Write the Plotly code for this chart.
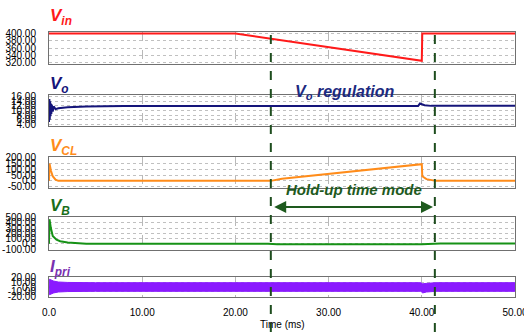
import plotly.graph_objects as go

# ---------------- data ----------------
x_ticks = [0, 10, 20, 30, 40, 50]
x_ticktext = ["0.0", "10.00", "20.00", "30.00", "40.00", "50.00"]

vin_t = [0, 20, 40, 40.05, 50]
vin_v = [400, 400, 325, 400, 400]
vin_ticks = [400, 380, 360, 340, 320]

vo_t = [0, 0.04, 0.08, 0.12, 0.16, 0.2, 0.25, 0.3, 0.4, 0.5, 0.7, 1.0, 2.0, 4.0, 8.0, 24.0, 24.5, 39.6, 39.8, 40.3, 41.0, 50]
vo_v = [5, 15, 6, 14, 7.5, 13, 8.5, 12.5, 9.5, 11.8, 10.6, 11.0, 11.4, 11.7, 11.9, 11.9, 11.8, 11.9, 13.0, 12.3, 12.0, 12.0]
vo_ticks = [16, 14, 12, 10, 8, 6, 4]

vcl_t = [0, 0.05, 0.2, 0.4, 0.7, 1.0, 23.8, 25.0, 40.0, 40.05, 40.5, 41.0, 41.5, 50]
vcl_v = [0, 150, 90, 40, 10, 0, 0, 18, 145, 40, 15, 5, 0, 0]
vcl_ticks = [200, 150, 100, 50, 0, -50]

vb_t = [0, 0.05, 0.2, 0.4, 0.8, 1.2, 2.0, 3.0, 4.0, 23.5, 24.5, 40.0, 41.0, 42.0, 50]
vb_v = [0, 470, 300, 150, 80, 50, 25, 10, 3, 3, -8, -8, 0, 4, 4]
vb_ticks = [500, 400, 300, 200, 100, 0, -100]

ipri_t = [0, 0.05, 0.5, 1.0, 2.0, 5.0, 39.9, 40.1, 40.5, 41.0, 41.5, 50]
ipri_hi = [0, 17, 13, 11, 10, 9.5, 9.5, 7, 8, 9.5, 9.5, 9.5]
ipri_lo = [0, -17, -13, -11, -10, -9.5, -9.5, -13, -11, -9.5, -9.5, -9.5]
ipri_ticks = [20, 10, 0, -10, -20]

holdup_start = 23.8
holdup_end = 41.4

# ---------------- layout helpers ----------------
W, H = 524, 332
X0, X1 = 49, 515


def px(p):
    return p / W


def py(p):
    return 1 - p / H


panels = [
    # (top px, bottom px, range)
    (32, 64, [316, 404]),
    (95, 126, [3.3, 16.7]),
    (157, 188, [-62, 207]),
    (217, 250, [-118, 512]),
    (277, 297, [-22, 22]),
]

fig = go.Figure()

fig.add_trace(go.Scatter(x=vin_t, y=vin_v, mode="lines", line=dict(color="#ff1a1a", width=2), xaxis="x", yaxis="y"))
fig.add_trace(go.Scatter(x=vo_t, y=vo_v, mode="lines", line=dict(color="#15157a", width=2), xaxis="x2", yaxis="y2"))
fig.add_trace(go.Scatter(x=vcl_t, y=vcl_v, mode="lines", line=dict(color="#ff8c1a", width=2), xaxis="x3", yaxis="y3"))
fig.add_trace(go.Scatter(x=vb_t, y=vb_v, mode="lines", line=dict(color="#169216", width=2), xaxis="x4", yaxis="y4"))
fig.add_trace(go.Scatter(x=ipri_t, y=ipri_hi, mode="lines", line=dict(color="#8a1aff", width=1), xaxis="x5", yaxis="y5"))
fig.add_trace(go.Scatter(x=ipri_t, y=ipri_lo, mode="lines", line=dict(color="#8a1aff", width=1),
                         fill="tonexty", fillcolor="#8a1aff", xaxis="x5", yaxis="y5"))


def fmt(v):
    return "0.0" if v == 0 else f"{v:.2f}"


tick_sets = [vin_ticks, vo_ticks, vcl_ticks, vb_ticks, ipri_ticks]
layout = {}
for i, ((top, bot, rng), ticks) in enumerate(zip(panels, tick_sets), start=1):
    sx = "" if i == 1 else str(i)
    xa = dict(
        domain=[px(X0), px(X1)], range=[0, 50], anchor="y" + sx, automargin=False,
        tickvals=x_ticks, ticktext=x_ticktext, showticklabels=(i == 5),
        ticks="", showgrid=True, gridcolor="#b8b8b8", griddash="dash", gridwidth=1,
        showline=True, mirror=True, linecolor="#707070", linewidth=1, zeroline=False,
        tickfont=dict(size=10, color="black", family="Liberation Sans, Arial"),
        ticklabelstandoff=6, ticklabeloverflow="allow",
    )
    if i != 5:
        xa["matches"] = "x5"
    layout["xaxis" + sx] = xa
    layout["yaxis" + sx] = dict(
        domain=[py(bot), py(top)], range=rng, anchor="x" + sx, automargin=False,
        tickvals=ticks, ticktext=[fmt(v) for v in ticks],
        ticks="", showgrid=True, gridcolor="#c0c0c0", griddash="dot", gridwidth=1,
        showline=True, mirror=True, linecolor="#707070", linewidth=1, zeroline=False,
        tickfont=dict(size=10, color="black", family="Liberation Sans, Arial"),
        ticklabelstandoff=10, ticklabeloverflow="allow",
    )

annotations = []
titles = [
    ("V<sub>in</sub>", "#ff1a1a", 17),
    ("V<sub>o</sub>", "#15157a", 85),
    ("V<sub>CL</sub>", "#ff8c1a", 147),
    ("V<sub>B</sub>", "#1a6e1a", 207),
    ("I<sub>pri</sub>", "#7a30b0", 268),
]
for txt, col, yc in titles:
    annotations.append(dict(
        text="<b><i>" + txt + "</i></b>", x=px(48), y=py(yc), xref="paper", yref="paper",
        xanchor="left", yanchor="middle", showarrow=False,
        font=dict(size=17, color=col, family="Liberation Sans, Arial"),
    ))

annotations.append(dict(
    text="<b><i>V<sub>o</sub> regulation</i></b>", x=px(345), y=py(93), xref="paper", yref="paper",
    xanchor="center", yanchor="middle", showarrow=False,
    font=dict(size=16, color="#1c2a80", family="Liberation Sans, Arial"),
))
annotations.append(dict(
    text="<b><i>Hold-up time mode</i></b>", x=px(354), y=py(189), xref="paper", yref="paper",
    xanchor="center", yanchor="middle", showarrow=False,
    font=dict(size=15, color="#1e5a1e", family="Liberation Sans, Arial"),
))
annotations.append(dict(
    text="", x=holdup_end - 0.2, y=py(207), xref="x5", yref="paper",
    ax=holdup_start + 0.2, ay=0, axref="x5", ayref="pixel",
    showarrow=True, arrowhead=2, arrowside="end+start", arrowsize=1.2, arrowwidth=2,
    arrowcolor="#1e5a1e",
))
annotations.append(dict(
    text="Time (ms)", x=px(282), y=py(324), xref="paper", yref="paper",
    xanchor="center", yanchor="middle", showarrow=False,
    font=dict(size=10, color="black", family="Liberation Sans, Arial"),
))

shapes = []
for xv in [holdup_start, holdup_end]:
    shapes.append(dict(type="line", xref="x5", yref="paper", x0=xv, x1=xv, y0=0, y1=py(28),
                       line=dict(color="#1e4d1e", width=2, dash="dash"), layer="above"))

fig.update_layout(
    width=W, height=H, margin=dict(l=0, r=0, t=0, b=0),
    paper_bgcolor="white", plot_bgcolor="white", showlegend=False,
    annotations=annotations, shapes=shapes, **layout,
)

# remove the default page margin so the 524x332 figure fills the window exactly
fig.write_html("out.html", config={"displayModeBar": False},
               post_script="document.body.style.margin='0px';")
